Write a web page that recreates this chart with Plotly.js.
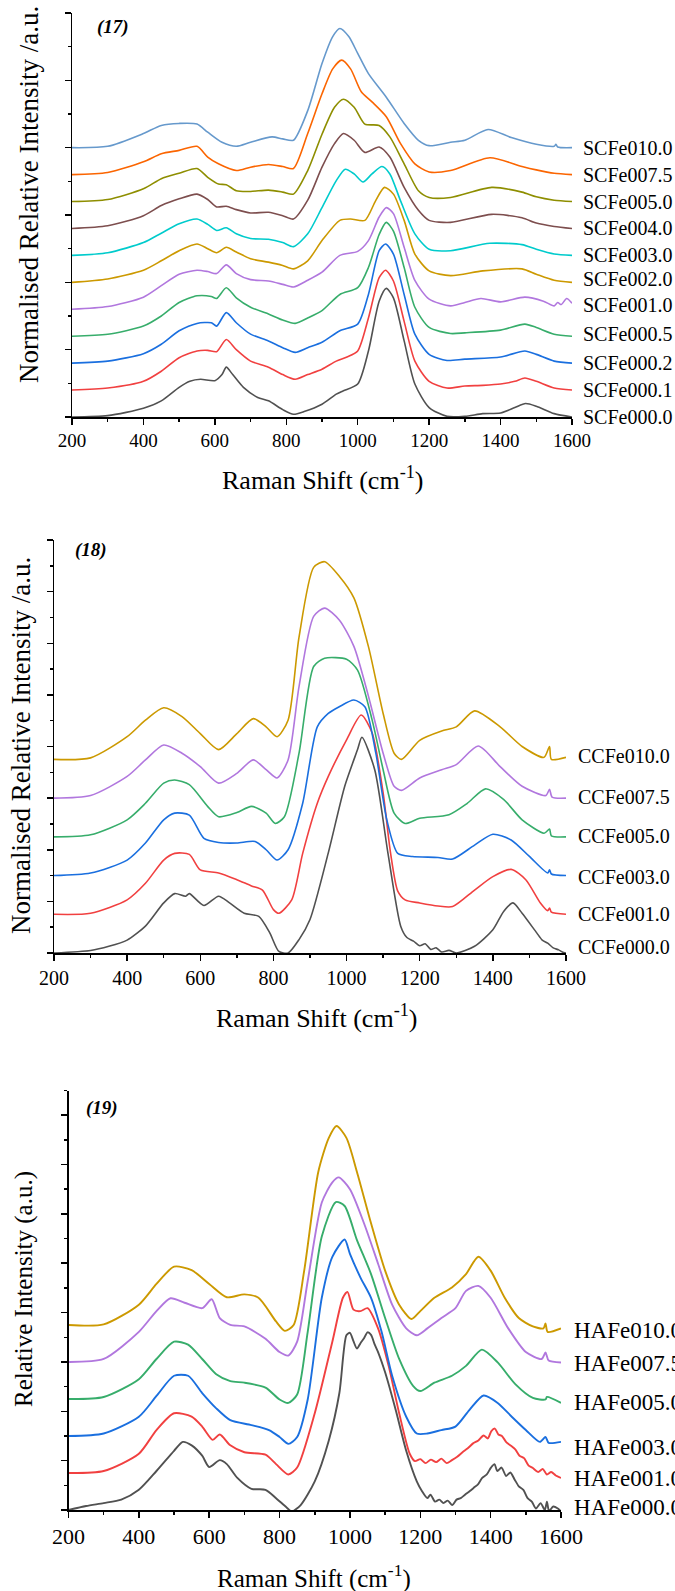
<!DOCTYPE html>
<html>
<head>
<meta charset="utf-8">
<script src="https://cdn.plot.ly/plotly-3.0.1.min.js"></script>
<style>
  html, body { margin: 0; padding: 0; background: #fff; }
  #chart { width: 675px; height: 1591px; }
</style>
</head>
<body>
<div id="chart"></div>
<script>
// ---- Raman spectra, [shift (cm-1), relative intensity] ----

// (17) SCFe series
const SCFe000_0 = [[200,0],[300,.02],[400,.13],[450,.24],[500,.44],[530,.53],[560,.56],[600,.54],[620,.63],[632,.74],[650,.63],[680,.44],[720,.29],[750,.24],[790,.11],[820,.04],[850,.08],[900,.19],[940,.34],[960,.39],[1000,.49],[1030,.98],[1060,1.72],[1080,1.91],[1100,1.77],[1130,1.13],[1160,.49],[1200,.14],[1250,.01],[1300,.01],[1350,.05],[1400,.06],[1440,.14],[1470,.2],[1500,.16],[1550,.05],[1600,0]];
const SCFe000_1 = [[200,0],[300,.03],[400,.13],[450,.28],[500,.48],[550,.58],[580,.59],[605,.57],[632,.75],[660,.6],[700,.43],[750,.34],[790,.23],[825,.16],[860,.23],[900,.31],[940,.43],[970,.49],[1000,.58],[1030,1.07],[1060,1.67],[1078,1.78],[1100,1.62],[1130,1.02],[1160,.43],[1200,.13],[1250,.03],[1300,.06],[1350,.07],[1400,.09],[1440,.13],[1468,.18],[1500,.13],[1550,.03],[1600,0]];
const SCFe000_2 = [[200,0],[300,.03],[400,.14],[450,.28],[500,.48],[550,.59],[590,.6],[605,.55],[632,.75],[660,.6],[700,.43],[750,.33],[790,.23],[825,.16],[860,.23],[900,.31],[950,.48],[1000,.58],[1030,1.02],[1060,1.67],[1078,1.77],[1100,1.62],[1130,1.02],[1160,.43],[1200,.13],[1250,.04],[1300,.06],[1400,.09],[1468,.18],[1500,.13],[1550,.03],[1600,0]];
const SCFe000_5 = [[200,0],[300,.03],[400,.15],[450,.3],[500,.5],[550,.6],[590,.59],[605,.56],[632,.72],[660,.57],[700,.43],[750,.33],[790,.24],[825,.19],[860,.27],[900,.38],[950,.62],[1000,.72],[1030,1.02],[1060,1.51],[1080,1.69],[1100,1.56],[1130,1.02],[1160,.43],[1200,.13],[1260,.04],[1300,.05],[1400,.09],[1468,.18],[1500,.13],[1550,.03],[1600,0]];
const SCFe001_0 = [[200,0],[300,.04],[400,.18],[450,.35],[500,.52],[550,.58],[580,.56],[605,.53],[632,.66],[660,.53],[700,.44],[750,.42],[790,.37],[820,.33],[860,.43],[900,.55],[950,.8],[1000,.86],[1030,1.02],[1060,1.37],[1080,1.51],[1100,1.42],[1130,.92],[1160,.43],[1200,.15],[1260,.05],[1300,.1],[1345,.16],[1400,.11],[1468,.18],[1520,.12],[1550,.05],[1560,.1],[1570,.07],[1585,.16],[1600,.09]];
const SCFe002_0 = [[200,0],[300,.05],[400,.18],[450,.32],[500,.47],[550,.57],[580,.5],[605,.44],[632,.52],[660,.45],[700,.35],[750,.3],[790,.25],[820,.2],[860,.32],[900,.62],[950,.92],[980,.94],[1020,.92],[1050,1.21],[1075,1.41],[1100,1.31],[1130,.92],[1160,.42],[1200,.17],[1260,.1],[1350,.17],[1460,.2],[1500,.12],[1550,.03],[1600,0]];
const SCFe003_0 = [[200,0],[300,.04],[400,.19],[450,.33],[500,.47],[550,.54],[580,.46],[605,.37],[632,.41],[660,.32],[700,.25],[750,.24],[790,.19],[820,.13],[860,.32],[900,.71],[940,1.11],[965,1.28],[990,1.21],[1015,1.09],[1040,1.21],[1068,1.32],[1090,1.21],[1120,.81],[1160,.32],[1200,.09],[1260,.07],[1370,.18],[1460,.16],[1500,.09],[1550,.02],[1600,0]];
const SCFe004_0 = [[200,0],[300,.04],[400,.19],[450,.34],[500,.44],[550,.51],[580,.43],[605,.32],[632,.33],[660,.28],[700,.23],[750,.24],[790,.19],[820,.14],[860,.42],[900,.91],[935,1.26],[960,1.41],[990,1.31],[1020,1.13],[1060,1.21],[1090,1.06],[1130,.61],[1170,.27],[1200,.12],[1260,.09],[1375,.21],[1460,.16],[1500,.08],[1550,.03],[1600,0]];
const SCFe005_0 = [[200,0],[300,.03],[400,.19],[450,.34],[500,.42],[550,.49],[580,.36],[610,.26],[632,.25],[660,.16],[700,.15],[750,.17],[790,.14],[820,.11],[860,.46],[900,1.0],[935,1.4],[960,1.52],[990,1.4],[1020,1.15],[1060,1.13],[1090,.96],[1130,.56],[1170,.16],[1200,.06],[1260,.06],[1375,.21],[1460,.14],[1500,.07],[1550,.02],[1600,0]];
const SCFe007_5 = [[200,0],[300,.03],[400,.19],[450,.31],[500,.36],[550,.42],[580,.26],[610,.16],[660,.06],[700,.11],[750,.15],[790,.12],[820,.09],[860,.61],[900,1.2],[930,1.57],[955,1.7],[980,1.57],[1010,1.23],[1040,1.08],[1080,.86],[1120,.46],[1160,.16],[1200,.04],[1260,.06],[1370,.25],[1460,.12],[1500,.07],[1550,.02],[1600,0]];
const SCFe010_0 = [[200,0],[300,.02],[400,.21],[450,.33],[500,.36],[550,.35],[580,.23],[620,.08],[660,.02],[700,.08],[760,.16],[790,.13],[820,.11],[860,.55],[900,1.25],[930,1.65],[950,1.77],[975,1.65],[1000,1.4],[1030,1.1],[1080,.75],[1130,.36],[1170,.11],[1200,.03],[1260,.08],[1300,.11],[1365,.27],[1430,.15],[1500,.05],[1550,.02],[1555,.05],[1560,.01],[1600,0]];

// (18) CCFe series
const CCFe000_0 = [[200,0],[300,.05],[350,.13],[400,.25],[450,.52],[500,.97],[530,1.15],[560,1.1],[570,1.15],[610,.92],[650,1.1],[680,.97],[720,.77],[760,.71],[790,.39],[815,.03],[840,0],[870,.26],[900,.65],[950,1.94],[995,3.23],[1030,3.94],[1042,4.18],[1077,3.55],[1113,1.94],[1148,.52],[1165,.3],[1183,.23],[1200,.14],[1215,.18],[1230,.07],[1245,.1],[1260,.02],[1280,.05],[1300,0],[1350,.13],[1400,.45],[1430,.81],[1455,.97],[1480,.77],[1520,.39],[1535,.25],[1550,.19],[1565,.1],[1580,.06],[1590,.02],[1600,0]];
const CCFe001_0 = [[200,0],[300,.02],[400,.28],[450,.6],[500,1.05],[530,1.18],[570,1.16],[600,.86],[650,.8],[700,.67],[740,.55],[770,.47],[800,.09],[815,.02],[850,.28],[880,1.18],[920,2.15],[950,2.67],[1000,3.38],[1040,3.86],[1070,3.51],[1100,2.35],[1120,1.2],[1140,.45],[1160,.28],[1200,.22],[1250,.16],[1290,.15],[1350,.47],[1400,.73],[1450,.87],[1490,.67],[1530,.22],[1550,.07],[1555,.12],[1560,.04],[1600,0]];
const CCFe003_0 = [[200,0],[300,.05],[400,.3],[450,.63],[500,1.08],[530,1.21],[570,1.17],[610,.72],[650,.64],[700,.63],[750,.66],[780,.5],[810,.3],[840,.5],[880,1.4],[920,2.88],[950,3.14],[980,3.27],[1020,3.4],[1050,3.27],[1080,2.37],[1110,1.08],[1140,.43],[1180,.37],[1250,.35],[1290,.32],[1350,.59],[1400,.8],[1450,.69],[1500,.37],[1550,.05],[1555,.11],[1560,.03],[1600,0]];
const CCFe005_0 = [[200,0],[300,.04],[400,.33],[450,.65],[500,1.04],[530,1.1],[570,1.01],[620,.59],[650,.39],[700,.47],[740,.59],[780,.46],[805,.26],[830,.39],[870,1.62],[910,3.3],[940,3.46],[1000,3.44],[1030,3.23],[1070,2.26],[1100,1.3],[1130,.46],[1160,.26],[1200,.36],[1280,.43],[1330,.65],[1380,.93],[1430,.72],[1480,.33],[1540,.07],[1555,.15],[1560,.02],[1600,0]];
const CCFe007_5 = [[200,0],[300,.05],[400,.42],[450,.74],[500,1.03],[550,.87],[600,.61],[650,.29],[700,.48],[745,.74],[780,.55],[810,.39],[840,.74],[870,2.16],[910,3.52],[940,3.68],[980,3.45],[1020,2.94],[1060,1.97],[1100,.87],[1130,.23],[1150,.15],[1200,.39],[1260,.55],[1300,.65],[1360,1.01],[1420,.61],[1480,.23],[1545,.05],[1555,.17],[1562,.02],[1600,0]];
const CCFe010_0 = [[200,0],[300,.03],[400,.44],[450,.76],[500,1.0],[550,.83],[600,.5],[650,.19],[700,.5],[745,.79],[780,.63],[810,.44],[840,.76],[870,2.37],[910,3.72],[940,3.83],[980,3.55],[1020,3.13],[1060,2.18],[1100,.89],[1130,.12],[1150,0],[1200,.37],[1260,.55],[1300,.63],[1350,.94],[1420,.63],[1480,.25],[1540,.04],[1555,.25],[1560,0],[1600,.04]];

// (19) HAFe series
const HAFe000_0 = [[200,0],[250,.08],[300,.14],[350,.21],[400,.41],[450,.79],[500,1.2],[525,1.38],[550,1.31],[580,1.1],[600,.87],[630,1.01],[650,.93],[680,.65],[720,.43],[760,.41],[790,.24],[820,.05],[835,-.03],[860,.1],[900,.58],[940,1.41],[970,2.37],[990,3.54],[1000,3.59],[1010,3.42],[1020,3.27],[1030,3.38],[1040,3.48],[1050,3.6],[1060,3.55],[1070,3.36],[1080,3.2],[1100,2.79],[1130,2.03],[1160,1.2],[1190,.58],[1205,.38],[1220,.24],[1229,.31],[1242,.17],[1254,.21],[1266,.14],[1278,.19],[1291,.1],[1303,.21],[1315,.24],[1327,.31],[1340,.38],[1352,.45],[1364,.52],[1376,.65],[1389,.72],[1401,.86],[1411,.93],[1419,.79],[1431,.86],[1444,.69],[1456,.76],[1468,.62],[1480,.48],[1493,.41],[1505,.24],[1517,.17],[1529,.03],[1542,.14],[1554,0],[1560,.17],[1566,-.02],[1578,.07],[1591,.03],[1600,-.03]];
const HAFe001_0 = [[200,0],[300,.04],[400,.39],[450,.87],[500,1.21],[550,1.14],[580,.94],[610,.67],[630,.78],[660,.56],[700,.42],[760,.37],[790,.18],[825,-.03],[850,.11],[900,1.21],[950,2.66],[980,3.55],[993,3.67],[1010,3.31],[1030,3.28],[1050,3.34],[1080,2.93],[1110,2.17],[1140,1.21],[1170,.39],[1185,.24],[1200,.28],[1215,.2],[1230,.27],[1245,.22],[1260,.29],[1275,.2],[1290,.26],[1305,.33],[1320,.42],[1335,.5],[1350,.6],[1365,.66],[1380,.76],[1392,.7],[1402,.85],[1412,.9],[1422,.78],[1432,.75],[1445,.62],[1458,.55],[1470,.48],[1482,.35],[1495,.3],[1508,.15],[1520,.1],[1535,.02],[1548,.08],[1560,-.03],[1572,.02],[1585,-.05],[1600,-.1]];
const HAFe003_0 = [[200,0],[300,.05],[400,.39],[450,.81],[500,1.22],[540,1.22],[580,.87],[620,.56],[660,.32],[720,.22],[770,.12],[800,-.02],[825,-.16],[850,-.02],[880,.74],[920,2.8],[950,3.63],[985,3.98],[1000,3.69],[1030,3.21],[1060,2.8],[1090,2.11],[1120,1.22],[1160,.39],[1190,.05],[1220,.05],[1260,.12],[1300,.19],[1340,.53],[1380,.82],[1420,.67],[1460,.39],[1500,.12],[1540,-.12],[1556,-.02],[1565,-.14],[1600,-.12]];
const HAFe005_0 = [[200,0],[300,.04],[400,.4],[450,.81],[500,1.16],[540,1.1],[580,.81],[620,.5],[660,.36],[700,.33],[760,.23],[800,-.01],[825,-.08],[850,.09],[880,1.36],[920,3.29],[960,3.99],[985,3.91],[1020,3.22],[1060,2.53],[1100,1.64],[1140,.81],[1180,.26],[1200,.16],[1240,.33],[1290,.47],[1330,.67],[1375,1.0],[1420,.74],[1470,.3],[1520,.02],[1556,-.01],[1560,.04],[1600,-.08]];
const HAFe007_5 = [[200,0],[300,.06],[400,.61],[450,1.03],[490,1.29],[530,1.2],[580,1.09],[607,1.27],[630,.89],[660,.75],[700,.72],[760,.47],[800,.2],[825,.13],[850,.41],[880,1.64],[920,3.23],[950,3.64],[968,3.74],[1000,3.5],[1040,2.81],[1080,1.99],[1120,1.16],[1160,.68],[1190,.54],[1220,.68],[1260,.89],[1300,1.09],[1330,1.44],[1365,1.54],[1400,1.3],[1450,.68],[1500,.2],[1545,.06],[1556,.19],[1565,.03],[1600,-.01]];
const HAFe010_0 = [[200,0],[300,.01],[400,.41],[450,.83],[500,1.18],[550,1.11],[600,.83],[650,.56],[700,.62],[740,.55],[790,.07],[815,-.12],[840,0],[870,1.1],[910,3.1],[940,3.79],[962,4.03],[990,3.79],[1020,3.1],[1060,2.06],[1100,1.1],[1140,.41],[1175,.12],[1200,.28],[1240,.55],[1290,.76],[1330,1.03],[1365,1.38],[1400,1.1],[1440,.55],[1480,.14],[1520,-.03],[1550,-.07],[1556,.03],[1562,-.14],[1600,-.07]];

const SC_NAMES = ['SCFe000.0','SCFe000.1','SCFe000.2','SCFe000.5','SCFe001.0','SCFe002.0','SCFe003.0','SCFe004.0','SCFe005.0','SCFe007.5','SCFe010.0'];
const SC_DATA  = [SCFe000_0, SCFe000_1, SCFe000_2, SCFe000_5, SCFe001_0, SCFe002_0, SCFe003_0, SCFe004_0, SCFe005_0, SCFe007_5, SCFe010_0];
const CC_NAMES = ['CCFe000.0','CCFe001.0','CCFe003.0','CCFe005.0','CCFe007.5','CCFe010.0'];
const CC_DATA  = [CCFe000_0, CCFe001_0, CCFe003_0, CCFe005_0, CCFe007_5, CCFe010_0];
const HA_NAMES = ['HAFe000.0','HAFe001.0','HAFe003.0','HAFe005.0','HAFe007.5','HAFe010.0'];
const HA_DATA  = [HAFe000_0, HAFe001_0, HAFe003_0, HAFe005_0, HAFe007_5, HAFe010_0];

const X_TICKS = [200, 400, 600, 800, 1000, 1200, 1400, 1600];

// ---- drawing ----
const W = 675, H = 1591;
const px = v => v / W;
const py = v => 1 - v / H;
const SERIF = 'Liberation Serif, Times New Roman, serif';

const PAL11 = ['#515151','#F14040','#1A6FDF','#37AD6B','#B177DE','#CC9900','#00CBCC','#7D4E4E','#8E8E00','#FB6501','#6699CC'];
const PAL6  = ['#515151','#F14040','#1A6FDF','#37AD6B','#B177DE','#CC9900'];

const panels = [
  { names: SC_NAMES, data: SC_DATA, step: 0.4, pal: PAL11, ax: '', left: 72, right: 572, top: 13, bottom: 417, yMax: 6,
    tickSize: 19, labSize: 20, labX: 581, nudge: [0,0,0,.03,.07,.05,0,0,0,0,0], lw: 1.6,
    tag: '(17)', tagX: 95, tagY: 27, ytitle: 'Normalised Relative Intensity /a.u.', ytX: 29, ytY: 195, ytSize: 27,
    xtX: 322, xtY: 478, xtSize: 26 },
  { names: CC_NAMES, data: CC_DATA, step: 0.75, pal: PAL6, ax: '2', left: 54, right: 566, top: 540, bottom: 953, yMax: 8,
    tickSize: 20, labSize: 20, labX: 576, nudge: [.11,0,-.02,.02,.03,.06], lw: 1.6,
    tag: '(18)', tagX: 73, tagY: 550, ytitle: 'Normalised Relative Intensity /a.u.', ytX: 21, ytY: 746, ytSize: 27,
    xtX: 316, xtY: 1016, xtSize: 26 },
  { names: HA_NAMES, data: HA_DATA, step: 0.75, pal: PAL6, ax: '3', left: 68.5, right: 561, top: 1090.5, bottom: 1510, yMax: 8.5,
    tickSize: 22, labSize: 23, labX: 572, nudge: [.05,-.11,-.23,-.08,-.03,-.12], lw: 1.9,
    tag: '(19)', tagX: 84, tagY: 1108, ytitle: 'Relative Intensity (a.u.)', ytX: 24, ytY: 1289, ytSize: 25,
    xtX: 314, xtY: 1576, xtSize: 25 }
];

const traces = [];
const annotations = [];
const layout = {
  width: W, height: H,
  margin: { l: 0, r: 0, t: 0, b: 0 },
  paper_bgcolor: '#fff', plot_bgcolor: 'rgba(0,0,0,0)',
  showlegend: false,
  annotations: annotations
};

panels.forEach(p => {
  const xa = 'x' + p.ax, ya = 'y' + p.ax;
  p.data.forEach((s, i) => {
    const off = i * p.step;
    traces.push({
      type: 'scatter', mode: 'lines',
      x: s.map(d => d[0]), y: s.map(d => d[1] + off),
      xaxis: xa, yaxis: ya, name: p.names[i],
      line: { color: p.pal[i], width: p.lw, shape: 'spline', smoothing: 0.7 },
      hoverinfo: 'skip', cliponaxis: false
    });
    annotations.push({
      xref: 'paper', yref: ya, x: px(p.labX), y: off + p.nudge[i],
      xanchor: 'left', yanchor: 'middle', showarrow: false,
      text: p.names[i], font: { family: SERIF, size: p.labSize, color: '#000' }
    });
  });

  layout['xaxis' + p.ax] = {
    domain: [px(p.left), px(p.right)], anchor: ya,
    range: [200, 1600], tickmode: 'array', tickvals: X_TICKS, ticktext: X_TICKS.map(String),
    ticks: 'outside', ticklen: 6, tickwidth: 1.5, tickcolor: '#000',
    minor: { ticks: 'outside', ticklen: 3, tickwidth: 1.5, tickcolor: '#000', tick0: 300, dtick: 200, showgrid: false },
    showline: true, linecolor: '#000', linewidth: 1.5,
    showgrid: false, zeroline: false,
    tickfont: { family: SERIF, size: p.tickSize, color: '#000' }
  };
  layout['yaxis' + p.ax] = {
    domain: [py(p.bottom), py(p.top)], anchor: xa,
    range: [0, p.yMax], tickmode: 'linear', tick0: 0, dtick: 1,
    ticks: 'outside', ticklen: 6, tickwidth: 1.5, tickcolor: '#000',
    minor: { ticks: 'outside', ticklen: 3, tickwidth: 1.5, tickcolor: '#000', tick0: 0.5, dtick: 1, showgrid: false },
    showline: true, linecolor: '#000', linewidth: 1.5,
    showgrid: false, zeroline: false, showticklabels: false
  };

  annotations.push({
    xref: 'paper', yref: 'paper', x: px(p.tagX), y: py(p.tagY), xanchor: 'left', yanchor: 'middle',
    showarrow: false, text: '<b><i>' + p.tag + '</i></b>', font: { family: SERIF, size: 19, color: '#000' }
  });
  annotations.push({
    xref: 'paper', yref: 'paper', x: px(p.ytX), y: py(p.ytY), xanchor: 'center', yanchor: 'middle',
    showarrow: false, textangle: -90, text: p.ytitle, font: { family: SERIF, size: p.ytSize, color: '#000' }
  });
  annotations.push({
    xref: 'paper', yref: 'paper', x: px(p.xtX), y: py(p.xtY), xanchor: 'center', yanchor: 'middle',
    showarrow: false, text: 'Raman Shift (cm<sup>-1</sup>)', font: { family: SERIF, size: p.xtSize, color: '#000' }
  });
});

Plotly.newPlot('chart', traces, layout, { displayModeBar: false, staticPlot: true });
</script>
</body>
</html>
